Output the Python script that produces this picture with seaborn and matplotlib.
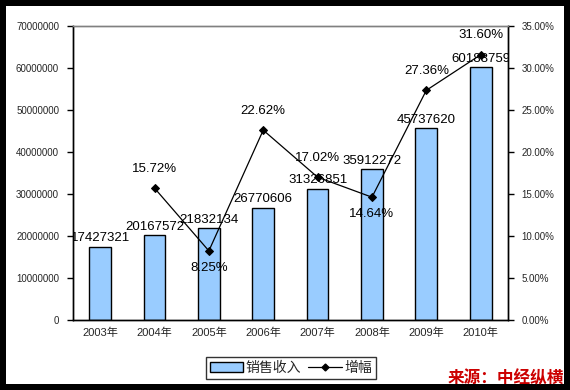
import numpy as np
import pandas as pd
import seaborn as sns
import matplotlib.pyplot as plt
from matplotlib.patches import Rectangle, Patch
from matplotlib.lines import Line2D
from matplotlib.ticker import MultipleLocator, FuncFormatter

years = ["2003年", "2004年", "2005年", "2006年", "2007年", "2008年", "2009年", "2010年"]
sales = [17427321, 20167572, 21832134, 26770606, 31326851, 35912272, 45737620, 60188759]
growth = [np.nan, 15.72, 8.25, 22.62, 17.02, 14.64, 27.36, 31.60]
growth_below = [False, False, True, False, False, True, False, False]

sns.set_style("white")
plt.rcParams["font.family"] = ["Liberation Sans", "Noto Sans CJK SC"]

df = pd.DataFrame({"year": years, "sales": sales, "growth": growth})
df["pos"] = np.arange(len(df))

fig = plt.figure(figsize=(5.7, 3.9), dpi=100)
fig.patch.set_facecolor("black")
fig.add_artist(Rectangle((6 / 570, 6 / 390), 558 / 570, 378 / 390,
                         transform=fig.transFigure, facecolor="white",
                         edgecolor="none", zorder=-10))
ax = fig.add_axes([0.128, 0.179, 0.763, 0.754])
ax.patch.set_alpha(0)

sns.barplot(data=df, x="year", y="sales", color="#99ccff", width=0.4,
            edgecolor="black", linewidth=1, saturation=1, ax=ax)
ax.set_ylim(0, 70000000)
ax.yaxis.set_major_locator(MultipleLocator(10000000))
ax.yaxis.set_major_formatter(FuncFormatter(lambda v, p: f"{int(v)}"))
ax.set_xlim(-0.5, len(years) - 0.5)
ax.set_xlabel("")
ax.set_ylabel("")
ax.tick_params(axis="y", direction="out", length=4, width=1, labelsize=7, color="black", pad=6)
ax.tick_params(axis="x", length=0, labelsize=8, pad=5)
ax.set_xticks(np.arange(len(years)) + 0.5, minor=True)
ax.tick_params(axis="x", which="minor", direction="in", length=3, width=0.8, color="black")

for i, v in enumerate(sales):
    t = ax.text(i, v + 600000, f"{v}", ha="center", va="bottom", fontsize=9.5,
                color="black", zorder=5)
    t.set_clip_box(ax.bbox)
    t.set_clip_on(True)

ax2 = ax.twinx()
sns.lineplot(data=df.dropna(), x="pos", y="growth", color="black", linewidth=0.9,
             marker="D", markersize=4.5, markeredgecolor="black", ax=ax2)
ax2.set_ylim(0, 35)
ax2.yaxis.set_major_locator(MultipleLocator(5))
ax2.yaxis.set_major_formatter(FuncFormatter(lambda v, p: f"{v:.2f}%"))
ax2.tick_params(axis="y", direction="out", length=4, width=1, labelsize=7, color="black", pad=6)
ax2.set_ylabel("")
ax2.set_xlabel("")
ax.set_xlim(-0.5, len(years) - 0.5)

for i, (g, below) in enumerate(zip(growth, growth_below)):
    if np.isnan(g):
        continue
    if below:
        ax2.text(i, g - 1.3, f"{g:.2f}%", ha="center", va="top", fontsize=9.5, color="black")
    else:
        ax2.text(i, g + 1.6, f"{g:.2f}%", ha="center", va="bottom", fontsize=9.5, color="black")

for a in (ax, ax2):
    for s in ("left", "right", "bottom"):
        a.spines[s].set_color("black")
        a.spines[s].set_linewidth(1)
    a.spines["top"].set_color("#808080")
    a.spines["top"].set_linewidth(1)

handles = [Patch(facecolor="#99ccff", edgecolor="black", linewidth=1),
           Line2D([0], [0], color="black", linewidth=0.9, marker="D", markersize=3.5)]
leg = fig.legend(handles, ["销售收入", "增幅"], loc="center", bbox_to_anchor=(291 / 570, 1 - 368 / 390),
                 ncol=2, fontsize=10, frameon=True, fancybox=False, edgecolor="black",
                 handlelength=2.4, handletextpad=0.2, columnspacing=0.5, borderpad=0.3,
                 borderaxespad=0.2)
leg.get_frame().set_linewidth(1)

fig.text(506 / 570, 1 - 378 / 390, "来源：中经纵横", ha="center", va="center", fontsize=12,
         fontweight="bold", color="#cc0000", family=["Noto Sans CJK SC", "DejaVu Sans"])

fig.savefig("out.png", dpi=100, facecolor=fig.get_facecolor())
